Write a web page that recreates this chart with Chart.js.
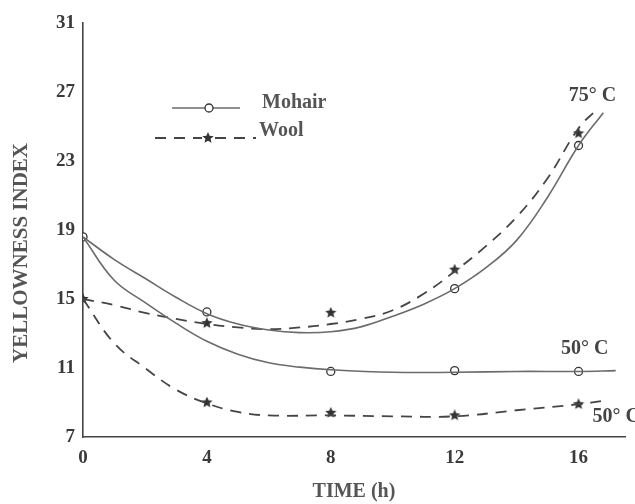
<!DOCTYPE html>
<html>
<head>
<meta charset="utf-8">
<script src="https://cdn.jsdelivr.net/npm/chart.js@4.4.1/dist/chart.umd.min.js"></script>
<style>
    html, body { margin: 0; padding: 0; background: #ffffff; }
    #wrap { width: 635px; height: 504px; position: relative; }
</style>
</head>
<body>
<div id="wrap"><canvas id="yellownessChart"></canvas></div>
<script>
// axis ticks
var hourTicks = [0, 4, 8, 12, 16];
var indexTicks = [7, 11, 15, 19, 23, 27, 31];

// measured points (markers)
var mohair75Hours = [0, 4, 12, 16];
var mohair75Points = [18.6, 14.25, 15.6, 23.9];
var wool75Hours = [0, 4, 8, 12, 16];
var wool75Points = [15.0, 13.6, 14.2, 16.7, 24.6];
var mohair50Hours = [8, 12, 16];
var mohair50Points = [10.8, 10.85, 10.8];
var wool50Hours = [4, 8, 12, 16];
var wool50Points = [9.0, 8.4, 8.25, 8.9];

// fitted curves
var mohair75CurveHours = [0, 1, 2, 3, 4, 5, 6, 7, 8, 9, 10, 11, 12, 13, 14, 15, 16, 16.8];
var mohair75Curve = [18.6, 17.3, 16.2, 15.1, 14.15, 13.55, 13.2, 13.05, 13.1, 13.4, 14.0, 14.7, 15.6, 16.8, 18.4, 20.9, 23.9, 25.8];
var wool75CurveHours = [0, 1, 2, 3, 4, 5, 6, 7, 8, 9, 10, 11, 12, 13, 14, 15, 16, 16.6];
var wool75Curve = [15.0, 14.65, 14.2, 13.85, 13.55, 13.35, 13.25, 13.35, 13.55, 13.85, 14.35, 15.3, 16.6, 18.05, 19.75, 22.0, 24.9, 26.0];
var mohair50CurveHours = [0, 1, 2, 3, 4, 5, 6, 7, 8, 10, 12, 14, 16, 17.2];
var mohair50Curve = [18.6, 16.1, 14.8, 13.6, 12.55, 11.8, 11.3, 11.05, 10.9, 10.75, 10.75, 10.8, 10.8, 10.85];
var wool50CurveHours = [0, 1, 2, 3, 4, 5, 6, 8, 10, 12, 14, 16, 16.8];
var wool50Curve = [15.0, 12.45, 11.0, 9.75, 8.95, 8.45, 8.25, 8.25, 8.2, 8.2, 8.55, 8.9, 9.1];

var serif = '"Liberation Serif", "Times New Roman", serif';
var solidColor = '#6b6b6b';
var dashColor = '#454545';

function pairs(xs, ys) {
    return xs.map(function (x, i) { return { x: x, y: ys[i] }; });
}

// filled five point star used as the wool marker
function makeStar(size, color) {
    var c = document.createElement('canvas');
    c.width = size; c.height = size;
    var g = c.getContext('2d');
    var R = size / 2, r = R * 0.45;
    g.beginPath();
    for (var i = 0; i < 10; i++) {
        var a = -Math.PI / 2 + i * Math.PI / 5;
        var rad = i % 2 ? r : R;
        g.lineTo(R + rad * Math.cos(a), R + rad * Math.sin(a));
    }
    g.closePath();
    g.fillStyle = color;
    g.fill();
    return c;
}
var star = makeStar(12, '#333333');

function curve(xs, ys, dashed) {
    return {
        data: pairs(xs, ys),
        showLine: true,
        borderColor: dashed ? dashColor : solidColor,
        borderWidth: dashed ? 1.8 : 1.6,
        borderDash: dashed ? [11, 8] : [],
        tension: 0.4,
        pointRadius: 0,
        pointHoverRadius: 0
    };
}
function marks(xs, ys, isWool) {
    return {
        data: pairs(xs, ys),
        showLine: false,
        pointStyle: isWool ? star : 'circle',
        pointRadius: 4,
        pointBorderWidth: 1.3,
        pointBorderColor: '#333333',
        pointBackgroundColor: '#ffffff'
    };
}

// titles, legend and curve labels
var decorations = {
    id: 'decorations',
    afterDraw: function (chart) {
        var ctx = chart.ctx;
        var xs = chart.scales.x, ys = chart.scales.y;
        ctx.save();
        ctx.fillStyle = '#555555';
        ctx.textBaseline = 'middle';

        ctx.save();
        ctx.font = 'bold 21px ' + serif;
        ctx.textAlign = 'center';
        ctx.translate(22, 253);
        ctx.rotate(-Math.PI / 2);
        ctx.fillText('YELLOWNESS INDEX', 0, 0);
        ctx.restore();

        // legend
        ctx.font = 'bold 20px ' + serif;
        ctx.textAlign = 'left';
        ctx.fillText('Mohair', 262, 103);
        ctx.fillText('Wool', 259, 131);
        ctx.strokeStyle = solidColor;
        ctx.lineWidth = 1.6;
        ctx.beginPath(); ctx.moveTo(172, 108); ctx.lineTo(240, 108); ctx.stroke();
        ctx.fillStyle = '#ffffff';
        ctx.strokeStyle = '#333333';
        ctx.lineWidth = 1.3;
        ctx.beginPath(); ctx.arc(209, 108, 4, 0, Math.PI * 2); ctx.fill(); ctx.stroke();
        ctx.strokeStyle = dashColor;
        ctx.lineWidth = 1.8;
        ctx.setLineDash([11, 8]);
        ctx.beginPath(); ctx.moveTo(155, 138); ctx.lineTo(202, 138); ctx.stroke();
        ctx.beginPath(); ctx.moveTo(215, 138); ctx.lineTo(256, 138); ctx.stroke();
        ctx.setLineDash([]);
        ctx.drawImage(star, 202, 132);

        // curve labels
        ctx.fillStyle = '#444444';
        ctx.font = 'bold 20px ' + serif;
        ctx.textAlign = 'center';
        ctx.fillText('75\u00b0 C', xs.getPixelForValue(16.45), ys.getPixelForValue(26.8));
        ctx.fillText('50\u00b0 C', xs.getPixelForValue(16.2), ys.getPixelForValue(12.1));
        ctx.textAlign = 'left';
        ctx.fillText('50\u00b0 C', xs.getPixelForValue(16.45), ys.getPixelForValue(8.15));
        ctx.restore();
    }
};

var ctxEl = document.getElementById('yellownessChart');
var yiChart = new Chart(ctxEl, {
    type: 'scatter',
    data: {
        datasets: [
            curve(mohair75CurveHours, mohair75Curve, false),
            curve(mohair50CurveHours, mohair50Curve, false),
            curve(wool75CurveHours, wool75Curve, true),
            curve(wool50CurveHours, wool50Curve, true),
            marks(mohair75Hours, mohair75Points, false),
            marks(mohair50Hours, mohair50Points, false),
            marks(wool75Hours, wool75Points, true),
            marks(wool50Hours, wool50Points, true)
        ]
    },
    options: {
        responsive: true,
        maintainAspectRatio: false,
        animation: false,
        layout: { padding: { top: 23, right: 10, left: 0, bottom: 0 } },
        plugins: {
            legend: { display: false },
            tooltip: { enabled: false }
        },
        scales: {
            x: {
                type: 'linear',
                min: 0,
                max: 17.5,
                afterBuildTicks: function (s) { s.ticks = hourTicks.map(function (v) { return { value: v }; }); },
                afterFit: function (s) { s.height = 67; },
                grid: { display: false, drawTicks: false },
                border: { display: true, color: '#444444', width: 1.6 },
                ticks: { color: '#3a3a3a', padding: 10, maxRotation: 0, font: { family: serif, size: 19, weight: 'bold' } },
                title: { display: true, text: 'TIME (h)', color: '#555555', padding: { top: 0, bottom: 0 }, font: { family: serif, size: 20, weight: 'bold' } }
            },
            y: {
                type: 'linear',
                min: 7,
                max: 31,
                afterBuildTicks: function (s) { s.ticks = indexTicks.map(function (v) { return { value: v }; }); },
                afterFit: function (s) { s.width = 83; },
                grid: { display: false, drawTicks: false },
                border: { display: true, color: '#444444', width: 1.6 },
                ticks: { color: '#3a3a3a', padding: 8, font: { family: serif, size: 19, weight: 'bold' } }
            }
        }
    },
    plugins: [decorations]
});
</script>
</body>
</html>
